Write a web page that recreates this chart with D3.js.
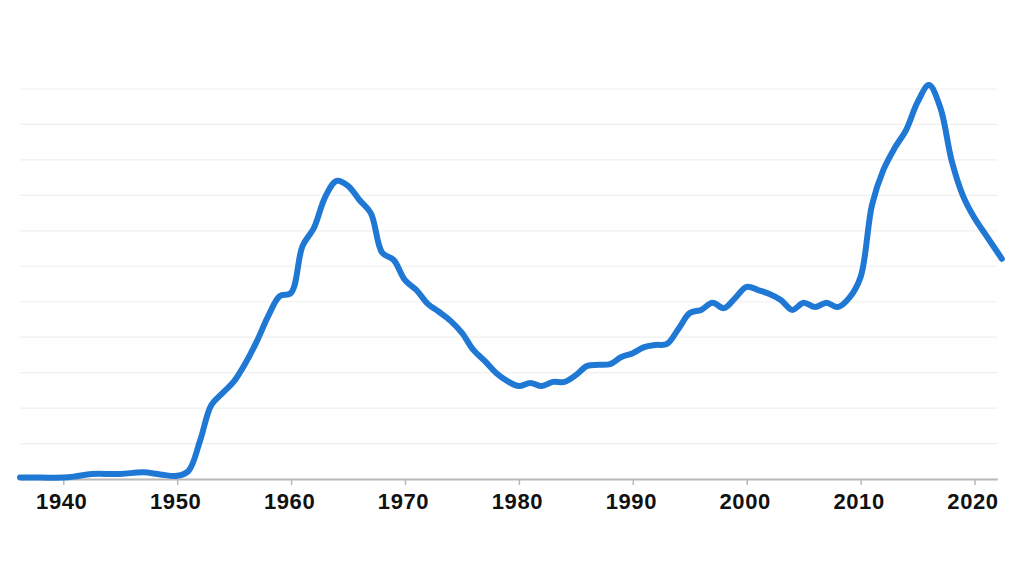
<!DOCTYPE html>
<html>
<head>
<meta charset="utf-8">
<script src="https://cdn.jsdelivr.net/npm/d3@7"></script>
<style>
  html, body { margin: 0; padding: 0; background: #ffffff; }
  svg { display: block; }
</style>
</head>
<body>
<svg id="chart" width="1024" height="576"></svg>
<script>
// Data (values in gridline units)
const years = [1936.2, 1938, 1940, 1941, 1942.5, 1945, 1947, 1948.5, 1950, 1951, 1952, 1953, 1954, 1955, 1956, 1957, 1958, 1959, 1960, 1961, 1962, 1963, 1964, 1965, 1966, 1967, 1968, 1969, 1970, 1971, 1972, 1973, 1974, 1975, 1976, 1977, 1978, 1979, 1980, 1981, 1982, 1983, 1984, 1985, 1986, 1987, 1988, 1989, 1990, 1991, 1992, 1993, 1994, 1995, 1996, 1997, 1998, 1999, 2000, 2001, 2002, 2003, 2004, 2005, 2006, 2007, 2008, 2009, 2010, 2011, 2012, 2013, 2014, 2015, 2016, 2017, 2018, 2019, 2020, 2021, 2022.4];
const values = [0.04, 0.04, 0.04, 0.07, 0.14, 0.14, 0.19, 0.13, 0.09, 0.23, 1.07, 2.09, 2.43, 2.76, 3.27, 3.89, 4.60, 5.16, 5.25, 6.57, 7.08, 7.96, 8.41, 8.27, 7.87, 7.50, 6.38, 6.18, 5.61, 5.33, 4.94, 4.71, 4.46, 4.12, 3.64, 3.33, 2.99, 2.76, 2.62, 2.71, 2.62, 2.74, 2.74, 2.93, 3.19, 3.22, 3.24, 3.44, 3.55, 3.72, 3.78, 3.81, 4.23, 4.68, 4.77, 4.97, 4.82, 5.11, 5.42, 5.33, 5.22, 5.05, 4.77, 4.97, 4.85, 4.97, 4.85, 5.11, 5.70, 7.73, 8.72, 9.34, 9.85, 10.63, 11.11, 10.47, 8.97, 7.98, 7.36, 6.88, 6.21];
const tickYears = [1940, 1950, 1960, 1970, 1980, 1990, 2000, 2010, 2020];
const tickLabels = ["1940", "1950", "1960", "1970", "1980", "1990", "2000", "2010", "2020"];
const gridValues = [1, 2, 3, 4, 5, 6, 7, 8, 9, 10, 11];

const svg = d3.select("#chart");
const x = d3.scaleLinear().domain([1936.2, 2022]).range([20, 997.3]);
const y = d3.scaleLinear().domain([0, 11]).range([479, 89]);

// Gridlines
svg.append("g")
  .selectAll("line")
  .data(gridValues)
  .join("line")
  .attr("x1", x(1936.2))
  .attr("x2", x(2022))
  .attr("y1", d => y(d))
  .attr("y2", d => y(d))
  .attr("stroke", "#efefef")
  .attr("stroke-width", 1.2);

// X axis
const axis = d3.axisBottom(x)
  .tickValues(tickYears)
  .tickFormat((d, i) => tickLabels[i])
  .tickSize(6)
  .tickSizeOuter(0)
  .tickPadding(8);

const gx = svg.append("g")
  .attr("transform", `translate(0,${y(0)})`)
  .call(axis);
gx.select(".domain").attr("stroke", "#b8b8b8").attr("stroke-width", 2);
gx.selectAll(".tick line").attr("stroke", "#b8b8b8").attr("stroke-width", 1.5);
gx.selectAll(".tick text")
  .attr("fill", "#111111")
  .attr("font-family", "'Liberation Sans', Arial, sans-serif")
  .attr("font-weight", "bold")
  .attr("font-size", 22)
  .attr("letter-spacing", 0.6)
  .attr("dx", -2);

// Line
const line = d3.line()
  .x((d, i) => x(years[i]))
  .y(d => y(d))
  .curve(d3.curveCatmullRom.alpha(0.5));

svg.append("path")
  .datum(values)
  .attr("d", line)
  .attr("fill", "none")
  .attr("stroke", "#1f78d3")
  .attr("stroke-width", 6)
  .attr("stroke-linejoin", "round")
  .attr("stroke-linecap", "round");
</script>
</body>
</html>
